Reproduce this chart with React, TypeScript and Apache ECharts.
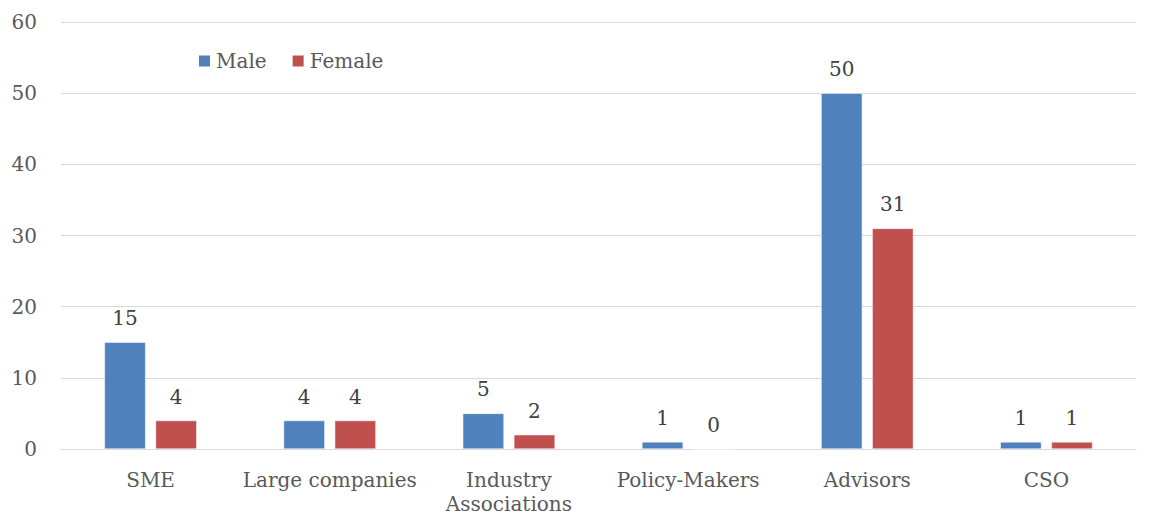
import React, { useEffect, useRef } from "react";
import * as echarts from "echarts";

const categories = ["SME", "Large companies", "Industry\nAssociations", "Policy-Makers", "Advisors", "CSO"];
const maleValues = [15, 4, 5, 1, 50, 1];
const femaleValues = [4, 4, 2, 0, 31, 1];
const seriesNames = ["Male", "Female"];

const FONT = "DejaVu Serif";

export default function App() {
  const ref = useRef<HTMLDivElement>(null);
  useEffect(() => {
    const chart = echarts.init(ref.current!, null, { renderer: "svg" });
    const label = {
      show: true,
      position: "top" as const,
      distance: 14,
      color: "#404040",
      fontFamily: FONT,
      fontSize: 20,
    };
    chart.setOption({
      animation: false,
      textStyle: { fontFamily: FONT },
      grid: { left: 53, right: 9, top: 14, bottom: 67, containLabel: false, outerBoundsMode: "none" },
      legend: {
        left: 184,
        top: 38,
        itemWidth: 13,
        itemHeight: 13,
        itemGap: 24,
        icon: "rect",
        textStyle: { fontFamily: FONT, fontSize: 20, color: "#595959" },
        data: seriesNames,
      },
      xAxis: {
        type: "category",
        data: categories,
        axisLine: { lineStyle: { color: "#d9d9d9", width: 1 } },
        axisTick: { show: false },
        axisLabel: { color: "#595959", fontFamily: FONT, fontSize: 20, margin: 19, lineHeight: 24, interval: 0 },
      },
      yAxis: {
        type: "value",
        min: 0,
        max: 60,
        interval: 10,
        axisLine: { show: false },
        axisTick: { show: false },
        splitLine: { lineStyle: { color: "#d9d9d9", width: 1 } },
        axisLabel: { color: "#595959", fontFamily: FONT, fontSize: 20, margin: 24 },
      },
      series: [
        {
          name: seriesNames[0],
          type: "bar",
          data: maleValues,
          barWidth: "23%",
          barGap: "24%",
          itemStyle: { color: "#4F81BD", borderColor: "#ffffff", borderWidth: 0.5 },
          label,
        },
        {
          name: seriesNames[1],
          type: "bar",
          data: femaleValues,
          barWidth: "23%",
          itemStyle: { color: "#C0504D", borderColor: "#ffffff", borderWidth: 0.5 },
          label,
        },
      ],
    });
    return () => chart.dispose();
  }, []);
  return <div ref={ref} style={{ width: 1137, height: 508 }} />;
}
